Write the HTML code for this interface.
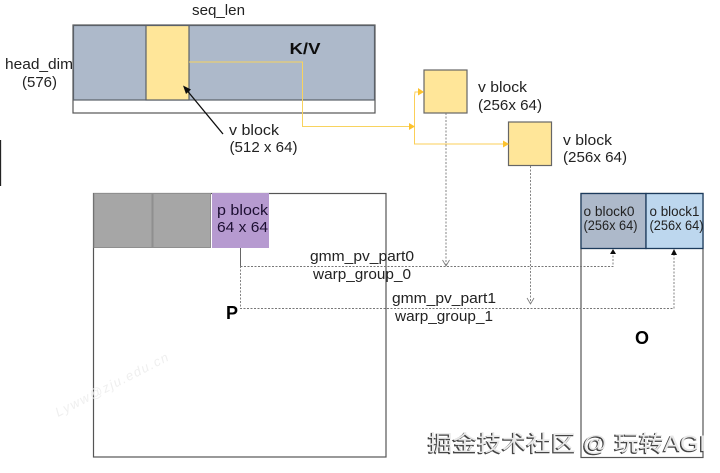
<!DOCTYPE html>
<html><head><meta charset="utf-8"><style>
html,body{margin:0;padding:0;background:#fff}
svg{display:block}
text{font-family:"Liberation Sans","Noto Sans CJK SC",sans-serif;fill:#222;font-size:15px}
</style></head><body>
<svg width="720" height="473" viewBox="0 0 720 473" xmlns="http://www.w3.org/2000/svg">
<defs><filter id="b" x="-5%" y="-5%" width="110%" height="110%"><feGaussianBlur stdDeviation="0.35"/></filter></defs>
<g filter="url(#b)">
<!-- top K/V -->
<rect x="73" y="25" width="302" height="88" fill="#fff" stroke="#555" stroke-width="1.2"/>
<rect x="73.5" y="25.5" width="301" height="74.5" fill="#adb9ca" stroke="#5a6068" stroke-width="1.2"/>
<rect x="146" y="25.5" width="43" height="74.5" fill="#ffe699" stroke="#5a6068" stroke-width="1.2"/>
<polyline points="189,62 302.500,62 302.500,126.500 413,126.500" fill="none" stroke="#f8d35e" stroke-width="1"/>
<line x1="223" y1="134" x2="185" y2="88" stroke="#111" stroke-width="1.3"/>
<polygon points="183,85.500 191,89.500 186,94" fill="#111"/>
<line x1="0.500" y1="140" x2="0.500" y2="186" stroke="#222" stroke-width="1.3"/>
<!-- v blocks -->
<rect x="424" y="70" width="43" height="43" fill="#ffe699" stroke="#666" stroke-width="1.2"/>
<rect x="508.500" y="122" width="43" height="43.500" fill="#ffe699" stroke="#666" stroke-width="1.2"/>
<polyline points="419,92 415,92 414.500,96 414.500,144 508,144" fill="none" stroke="#fbcf58" stroke-width="1"/>
<polygon points="418,88 424,92 418,95.500" fill="#fcc22f"/>
<polygon points="409,123 415,126.500 409,130" fill="#fcc22f"/>
<polygon points="503,140.500 509,144 503,147.500" fill="#fcc22f"/>
<!-- P box -->
<rect x="93.500" y="193.500" width="292.500" height="263.500" fill="#fff" stroke="#555" stroke-width="1.2"/>
<rect x="94" y="193.500" width="58" height="54" fill="#a6a6a6" stroke="#8f8f8f"/>
<rect x="153" y="193.500" width="57.500" height="54" fill="#a6a6a6" stroke="#8f8f8f"/>
<rect x="212" y="193" width="57" height="55" fill="#b69ad0"/>
<!-- O box -->
<rect x="581" y="193.500" width="122" height="264" fill="#fff" stroke="#555" stroke-width="1.2"/>
<rect x="581" y="193.500" width="65" height="55" fill="#adb9ca" stroke="#1f3b5c" stroke-width="1.3"/>
<rect x="646" y="193.500" width="57" height="55" fill="#bdd7ee" stroke="#1f3b5c" stroke-width="1.3"/>
<!-- dotted connectors -->
<g fill="none" stroke="#777" stroke-width="0.9" stroke-dasharray="2 1.500">
<line x1="446" y1="113" x2="446" y2="266"/>
<line x1="530.500" y1="166" x2="530.500" y2="304"/>
<polyline points="240.500,266.500 613,266.500 613,250"/>
<polyline points="240.500,266 240.500,308.500 674,308.500 674,250"/>
</g>
<line x1="240.500" y1="248" x2="240.500" y2="266" stroke="#666" stroke-width="1"/>
<polyline points="442.500,260 446,266 449.500,260" fill="none" stroke="#777" stroke-width="0.8"/>
<polyline points="527,298 530.500,304 534,298" fill="none" stroke="#777" stroke-width="0.8"/>
<polygon points="613,249 616,254 610,254" fill="#111"/>
<polygon points="674,249 677,255 671,255" fill="#111"/>
<!-- labels -->
<text x="192" y="15" textLength="53" lengthAdjust="spacingAndGlyphs">seq_len</text>
<text x="5" y="69" textLength="68" lengthAdjust="spacingAndGlyphs">head_dim</text>
<text x="22" y="87" textLength="35" lengthAdjust="spacingAndGlyphs">(576)</text>
<text x="289.500" y="54" textLength="31" lengthAdjust="spacingAndGlyphs" style="font-size:16px;font-weight:bold;fill:#111">K/V</text>
<text x="229" y="135" textLength="50" lengthAdjust="spacingAndGlyphs">v block</text>
<text x="229.500" y="152" textLength="68" lengthAdjust="spacingAndGlyphs">(512 x 64)</text>
<text x="478" y="92" textLength="49" lengthAdjust="spacingAndGlyphs">v block</text>
<text x="478" y="110" textLength="64" lengthAdjust="spacingAndGlyphs">(256x 64)</text>
<text x="563" y="145" textLength="49" lengthAdjust="spacingAndGlyphs">v block</text>
<text x="563" y="162" textLength="64" lengthAdjust="spacingAndGlyphs">(256x 64)</text>
<text x="217" y="215" textLength="51" lengthAdjust="spacingAndGlyphs" style="fill:#1c1030">p block</text>
<text x="217" y="232" textLength="51" lengthAdjust="spacingAndGlyphs" style="fill:#1c1030">64 x 64</text>
<text x="583.500" y="216" textLength="51" lengthAdjust="spacingAndGlyphs" style="font-size:13.500px">o block0</text>
<text x="583.500" y="230" textLength="54" lengthAdjust="spacingAndGlyphs" style="font-size:13.500px">(256x 64)</text>
<text x="649.500" y="216" textLength="50" lengthAdjust="spacingAndGlyphs" style="font-size:13.500px">o block1</text>
<text x="649.500" y="230" textLength="54" lengthAdjust="spacingAndGlyphs" style="font-size:13.500px">(256x 64)</text>
<text x="310" y="261" textLength="104" lengthAdjust="spacingAndGlyphs">gmm_pv_part0</text>
<text x="313" y="279" textLength="98" lengthAdjust="spacingAndGlyphs">warp_group_0</text>
<text x="392" y="303" textLength="104" lengthAdjust="spacingAndGlyphs">gmm_pv_part1</text>
<text x="395" y="321" textLength="98" lengthAdjust="spacingAndGlyphs">warp_group_1</text>
<text x="226" y="319" style="font-size:18px;font-weight:bold;fill:#000">P</text>
<text x="635" y="344" style="font-size:18px;font-weight:bold;fill:#000">O</text>
<text x="58" y="417" transform="rotate(-27 58 417)" textLength="125" style="font-size:13px;fill:#efefef;font-style:italic">Lyww@zju.edu.cn</text>
<text x="427" y="452" textLength="278" lengthAdjust="spacingAndGlyphs" style="font-size:22px;fill:#444;stroke:#444;stroke-width:0.6">掘金技术社区 @ 玩转AGI</text>
<text x="428" y="451" textLength="278" lengthAdjust="spacingAndGlyphs" style="font-size:22px;fill:#e8e8e8">掘金技术社区 @ 玩转AGI</text>
</g>
</svg>
</body></html>
